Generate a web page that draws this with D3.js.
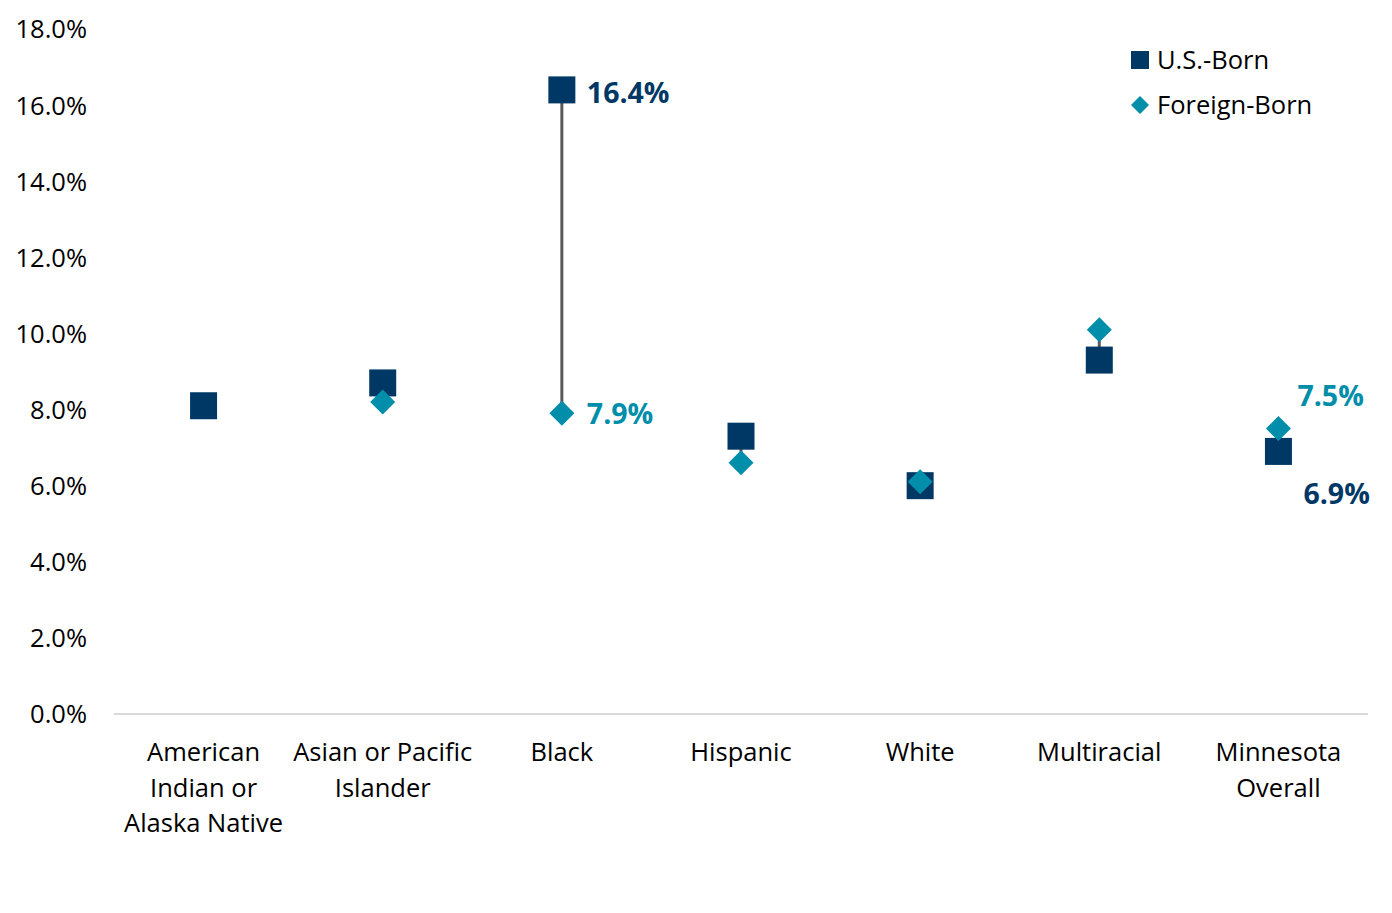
<!DOCTYPE html>
<html><head><meta charset="utf-8">
<script src="https://cdn.jsdelivr.net/npm/d3@7"></script>
<style>body{margin:0;background:#fff;} svg{display:block;font-family:"Open Sans",sans-serif;}</style>
</head><body>
<svg id="chart" width="1392" height="913"></svg>
<script>
const categories = [["American","Indian or","Alaska Native"],["Asian or Pacific","Islander"],["Black"],["Hispanic"],["White"],["Multiracial"],["Minnesota","Overall"]];
const usBorn = [8.1, 8.7, 16.4, 7.3, 6.0, 9.3, 6.9];
const foreignBorn = [null, 8.2, 7.9, 6.6, 6.1, 10.1, 7.5];
const yTicks = [0,2,4,6,8,10,12,14,16,18];
const seriesNames = ["U.S.-Born","Foreign-Born"];

(function(){
const navy = "#003865", teal = "#008EAA";
const svg = d3.select("#chart");
const pL = 114, pR = 1368, pT = 29, pB = 714;
const fs = 25.5;
const x = d3.scaleBand().domain(d3.range(categories.length)).range([pL, pR]);
const y = d3.scaleLinear().domain([0, 18]).range([pB, pT]);

// baseline
svg.append("line").attr("x1", pL).attr("x2", pR).attr("y1", y(0)).attr("y2", y(0))
  .attr("stroke", "#d9d9d9").attr("stroke-width", 2);

// y axis labels
const yAxis = d3.axisLeft(y).tickValues(yTicks).tickFormat(d => d.toFixed(1) + "%").tickSize(0).tickPadding(0);
const ya = svg.append("g").attr("transform", `translate(87,0)`).call(yAxis);
ya.select(".domain").remove();
ya.selectAll("text").attr("font-size", fs).attr("fill", "#000").attr("font-family", "Open Sans").attr("dy", "0.35em");

const cx = i => x(i) + x.bandwidth() / 2;

// category labels
categories.forEach((lines, i) => {
  const t = svg.append("text").attr("text-anchor", "middle").attr("font-size", fs).attr("fill", "#000");
  lines.forEach((l, j) => t.append("tspan").attr("x", cx(i)).attr("y", 761 + j * 35.5).text(l));
});

// connector lines
usBorn.forEach((v, i) => {
  const f = foreignBorn[i];
  if (v == null || f == null) return;
  svg.append("line").attr("x1", cx(i)).attr("x2", cx(i)).attr("y1", y(v)).attr("y2", y(f))
    .attr("stroke", "#595959").attr("stroke-width", 3);
});

// US-born squares
const sq = 27;
svg.selectAll("rect.us").data(usBorn.map((v, i) => ({v, i})).filter(d => d.v != null)).enter()
  .append("rect").attr("class", "us")
  .attr("x", d => cx(d.i) - sq / 2).attr("y", d => y(d.v) - sq / 2)
  .attr("width", sq).attr("height", sq).attr("fill", navy);

// Foreign-born diamonds
const dh = 12.5;
const diamond = (cxv, cyv, h) => `M${cxv},${cyv - h}L${cxv + h},${cyv}L${cxv},${cyv + h}L${cxv - h},${cyv}Z`;
svg.selectAll("path.fb").data(foreignBorn.map((v, i) => ({v, i})).filter(d => d.v != null)).enter()
  .append("path").attr("class", "fb")
  .attr("d", d => diamond(cx(d.i), y(d.v), dh)).attr("fill", teal);

// data labels
const lbl = (xp, yp, txt, col) => svg.append("text").attr("x", xp).attr("y", yp).attr("dy", "0.35em")
  .attr("font-size", 28.5).attr("font-weight", "bold").attr("fill", col).text(txt);
lbl(cx(2) + 25, y(usBorn[2]) + 3, usBorn[2].toFixed(1) + "%", navy);
lbl(cx(2) + 25, y(foreignBorn[2]) + 1, foreignBorn[2].toFixed(1) + "%", teal);
lbl(cx(6) + 19, y(foreignBorn[6]) - 33, foreignBorn[6].toFixed(1) + "%", teal);
lbl(cx(6) + 25, y(usBorn[6]) + 43, usBorn[6].toFixed(1) + "%", navy);

// legend
const lg = svg.append("g");
lg.append("rect").attr("x", 1131).attr("y", 51).attr("width", 18).attr("height", 18).attr("fill", navy);
lg.append("text").attr("x", 1157).attr("y", 60).attr("dy", "0.35em").attr("font-size", fs).attr("fill", "#000").text(seriesNames[0]);
lg.append("path").attr("d", diamond(1140, 105, 9)).attr("fill", teal);
lg.append("text").attr("x", 1157).attr("y", 105).attr("dy", "0.35em").attr("font-size", fs).attr("fill", "#000").text(seriesNames[1]);
})();
</script>
</body></html>
